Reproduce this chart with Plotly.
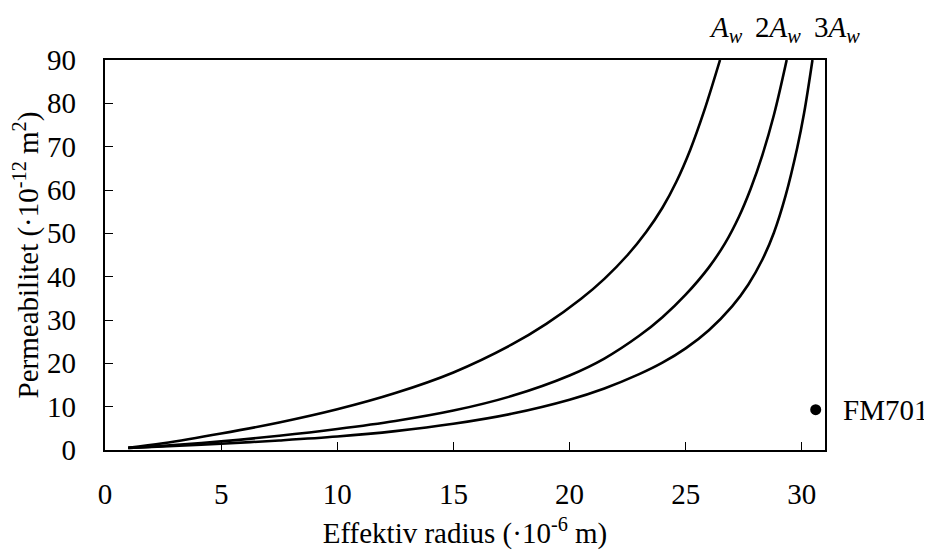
import plotly.graph_objects as go

# Curve data (effective radius, permeability)
x_aw = [1.0, 2.5, 5.0, 7.5, 10.0, 12.5, 15.0, 17.5, 19.0, 20.5, 21.5, 22.5, 23.3, 24.0, 24.6, 25.2, 25.8, 26.48]
y_aw = [0.5, 1.55, 3.8, 6.35, 9.4, 13.15, 17.9, 24.3, 29.1, 34.9, 39.5, 45.0, 50.3, 55.9, 61.9, 69.3, 78.3, 90.0]

x_2aw = [1.0, 2.5, 5.0, 7.5, 10.0, 12.5, 15.0, 17.5, 20.0, 21.5, 23.0, 24.0, 25.0, 26.0, 26.7,
         27.3, 27.8, 28.3, 28.8, 29.35]
y_2aw = [0.5, 0.95, 2.0, 3.3, 4.85, 6.7, 9.1, 12.45, 17.2, 21.1, 26.35, 30.65, 35.85, 42.15, 47.75,
         53.9, 60.3, 68.0, 77.3, 90.0]

x_3aw = [1.0, 2.5, 5.0, 7.5, 10.0, 12.5, 15.0, 17.5, 20.0, 21.5, 23.0, 24.0, 25.0, 26.0, 27.0,
         27.7, 28.3, 28.8, 29.3, 29.8, 30.1, 30.46]
y_3aw = [0.5, 0.8, 1.45, 2.2, 3.1, 4.35, 6.05, 8.35, 11.6, 14.2, 17.5, 20.15, 23.45, 27.65, 33.15,
         38.2, 43.9, 50.15, 58.65, 69.65, 77.75, 90.0]

point_x = [30.6]
point_y = [9.3]
point_label = "FM701"

curve_labels = ["<i>A</i><sub><i>w</i></sub>", "2<i>A</i><sub><i>w</i></sub>", "3<i>A</i><sub><i>w</i></sub>"]
label_xpaper = [0.8625, 0.9347, 1.0167]

x_ticks = [0, 5, 10, 15, 20, 25, 30]
y_ticks = [0, 10, 20, 30, 40, 50, 60, 70, 80, 90]

FONT = "Liberation Serif"
FS = 29

fig = go.Figure()
for xs, ys in [(x_aw, y_aw), (x_2aw, y_2aw), (x_3aw, y_3aw)]:
    fig.add_trace(go.Scatter(x=xs, y=ys, mode="lines",
                             line=dict(color="black", width=2.6, shape="spline", smoothing=1.0),
                             showlegend=False, hoverinfo="skip"))

fig.add_trace(go.Scatter(x=point_x, y=point_y, mode="markers",
                         marker=dict(color="black", size=11), showlegend=False,
                         cliponaxis=False))

fig.add_annotation(x=point_x[0], y=point_y[0], xref="x", yref="y", text=point_label,
                   showarrow=False, xanchor="left", yanchor="middle", xshift=25,
                   font=dict(family=FONT, size=FS, color="black"))

for lx, lt in zip(label_xpaper, curve_labels):
    fig.add_annotation(x=lx, y=1.0, xref="paper", yref="paper", text=lt, showarrow=False,
                       xanchor="center", yanchor="bottom", yshift=11,
                       font=dict(family=FONT, size=FS, color="black"))

axis_common = dict(showgrid=False, zeroline=False, showline=True, linecolor="black",
                   linewidth=2.2, mirror=True, ticks="inside", ticklen=8, tickwidth=1.3,
                   tickcolor="black", tickfont=dict(family=FONT, size=FS, color="black"),
                   automargin=False)

fig.update_xaxes(range=[0, 31], tickvals=x_ticks, ticktext=[str(v) for v in x_ticks],
                 title=dict(text="Effektiv radius (·10<sup>-6</sup> m)",
                            font=dict(family=FONT, size=FS, color="black"), standoff=18),
                 ticklabelstandoff=17, **axis_common)
fig.update_yaxes(range=[0, 90], tickvals=y_ticks, ticktext=[str(v) for v in y_ticks],
                 title=dict(text="Permeabilitet (·10<sup>-12</sup> m<sup>2</sup>)",
                            font=dict(family=FONT, size=FS, color="black"), standoff=3),
                 ticklabelstandoff=21, **axis_common)

# page body adds an 8px offset; size the figure so the plot area lands where the reference has it
fig.update_layout(width=924, height=542, margin=dict(l=97, r=107, t=52, b=100),
                  plot_bgcolor="white", paper_bgcolor="white",
                  font=dict(family=FONT, size=FS, color="black"))

fig.write_html("out.html")
